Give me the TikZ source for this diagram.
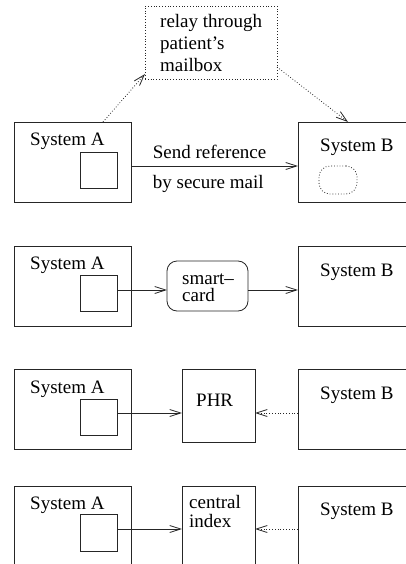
\documentclass[tikz,border=0pt]{standalone}
\usepackage{fontspec}
\setmainfont{Liberation Serif}
\usetikzlibrary{arrows.meta}
\begin{document}
\begin{tikzpicture}[x=1pt,y=-1pt,
  every node/.style={font=\fontsize{19}{22}\selectfont},
  box/.style={draw=black!85, line width=0.8pt, inner sep=0pt, outer sep=0pt},
  sysbox/.style={box, minimum width=117, minimum height=80},
  sqbox/.style={box, minimum width=37, minimum height=36},
  txt/.style={anchor=base west, inner sep=0pt, text=black},
  arr/.style={line width=0.8pt, draw=black!85, -{Straight Barb[length=11pt,width=7pt,line width=0.8pt]}},
  dotarr/.style={arr, dotted}]
\useasboundingbox (0,0) rectangle (406,564);
\clip (0,0) rectangle (406,564);
% panel 1
\node[sysbox] (A1) at (72.5,162) {};
\node[sqbox] (sq1) at (98.5,170) {};
\node[box, dotted, minimum width=132, minimum height=73] (relay) at (211,42.5) {};
\node[sysbox] (B1) at (356.5,162) {};
\node[box, dotted, rounded corners=11pt, minimum width=38, minimum height=28] (bub) at (338,180) {};
\node[txt] (tA1) at (30,146) {System A};
\node[txt] (tB1) at (320,152) {System B};
\node[txt] (r1) at (160,28) {relay through};
\node[txt] (r2) at (160,50) {patient’s};
\node[txt] (r3) at (160,72) {mailbox};
\node[txt] (s1) at (152.7,159) {Send reference};
\node[txt] (s2) at (152.7,188) {by secure mail};
\draw[arr] (A1.east |- 0,166) -- (B1.west |- 0,166);
\draw[dotarr] (A1.north -| 103,0) -- (relay.west |- 0,74);
\draw[dotarr] (relay.east |- 0,67) -- (B1.north -| 348,0);
% panel 2
\node[sysbox] (A2) at (72.5,286) {};
\node[sqbox] (sq2) at (98.5,293) {};
\node[box, rounded corners=10pt, minimum width=81, minimum height=50] (card) at (207.5,286) {};
\node[sysbox] (B2) at (356.5,286) {};
\node[txt] (tA2) at (30,269) {System A};
\node[txt] (tB2) at (320,276) {System B};
\node[txt, align=left, font=\fontsize{19}{17}\selectfont] (c1) at (182,301) {smart--\\card};
\draw[arr] (sq2.east |- 0,290) -- (card.west |- 0,290);
\draw[arr] (card.east |- 0,290) -- (B2.west |- 0,290);
% panel 3
\node[sysbox] (A3) at (72.5,409) {};
\node[sqbox] (sq3) at (98.5,417) {};
\node[box, minimum width=73, minimum height=73] (phr) at (218.5,405.5) {};
\node[sysbox] (B3) at (356.5,409) {};
\node[txt] (tA3) at (30,393) {System A};
\node[txt] (tB3) at (320,399) {System B};
\node[txt] (tp) at (196,406) {PHR};
\draw[arr] (sq3.east |- 0,413) -- (phr.west |- 0,413);
\draw[dotarr] (B3.west |- 0,413) -- (phr.east |- 0,413);
% panel 4
\node[sysbox] (A4) at (72.5,526) {};
\node[box, minimum width=37, minimum height=37] (sq4) at (98.5,532.5) {};
\node[box, minimum width=73, minimum height=80] (idx) at (218.5,526) {};
\node[sysbox] (B4) at (356.5,526) {};
\node[txt] (tA4) at (30,509) {System A};
\node[txt] (tB4) at (320,515) {System B};
\node[txt] (i1) at (189,508) {central};
\node[txt] (i2) at (189,527) {index};
\draw[arr] (sq4.east |- 0,529) -- (idx.west |- 0,529);
\draw[dotarr] (B4.west |- 0,529) -- (idx.east |- 0,529);
\end{tikzpicture}
\end{document}
